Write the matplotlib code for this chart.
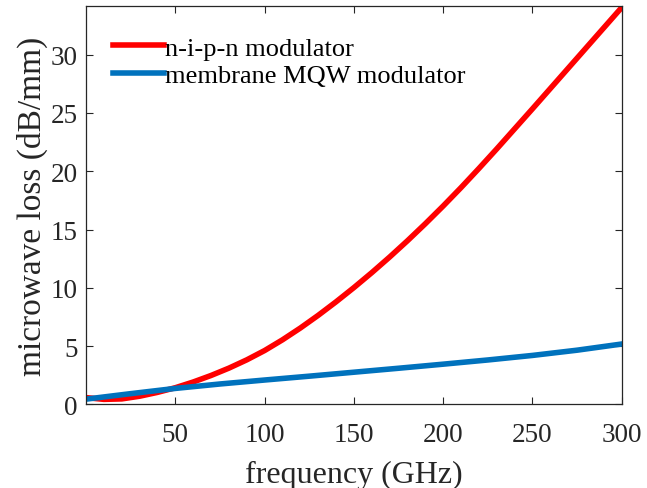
import matplotlib
matplotlib.use("Agg")
import matplotlib.pyplot as plt
import numpy as np

freq_red = [0, 10, 20, 30, 40, 50, 60, 70, 80, 90, 100, 110, 120, 130, 140, 150,
            160, 170, 180, 190, 200, 210, 220, 230, 240, 250, 260, 270, 280, 290, 300]
loss_red = [0.58, 0.43, 0.47, 0.7, 1.03, 1.43, 1.92, 2.48, 3.11, 3.82, 4.62, 5.54, 6.55,
            7.64, 8.8, 10.02, 11.3, 12.64, 14.04, 15.5, 17.02, 18.6, 20.24, 21.92,
            23.64, 25.36, 27.1, 28.84, 30.58, 32.32, 34.06]
freq_blue = [0, 25, 50, 75, 100, 125, 150, 175, 200, 225, 250, 275, 300]
loss_blue = [0.45, 0.92, 1.37, 1.75, 2.09, 2.42, 2.76, 3.1, 3.45, 3.81, 4.2, 4.65, 5.18]
labels = ["n-i-p-n modulator", "membrane MQW modulator"]
xticks = [50, 100, 150, 200, 250, 300]
yticks = [0, 5, 10, 15, 20, 25, 30]

plt.rcParams['font.family'] = ['Liberation Serif', 'DejaVu Serif']
fig = plt.figure(figsize=(6.47, 4.89), dpi=100)
ax = fig.add_axes([0.133, 0.171, 0.828, 0.814])

ax.plot(freq_red, loss_red, color='#FF0000', lw=4, label=labels[0])
ax.plot(freq_blue, loss_blue, color='#0072BD', lw=4, label=labels[1])

ax.set_xlim(0, 300)
ax.set_ylim(0, 34.15)
ax.set_xticks(xticks)
ax.set_yticks(yticks)
ax.tick_params(direction='in', top=True, right=True, labelsize=19.5, colors='#262626',
               length=5, width=0.8)
ax.tick_params(axis='x', pad=13)
ax.tick_params(axis='y', pad=6)
for s in ax.spines.values():
    s.set_color('#262626')
    s.set_linewidth(0.9)
ax.set_xlabel("frequency (GHz)", fontsize=23, color='#262626', labelpad=9)
ax.set_ylabel("microwave loss (dB/mm)", fontsize=24, color='#262626', labelpad=2)

leg = ax.legend(loc='upper left', bbox_to_anchor=(0.02, 0.965), frameon=False,
                fontsize=19, handlelength=1.95, handletextpad=0.05, labelspacing=0.15,
                borderaxespad=0.2)

fig.savefig("out.png", dpi=100)
